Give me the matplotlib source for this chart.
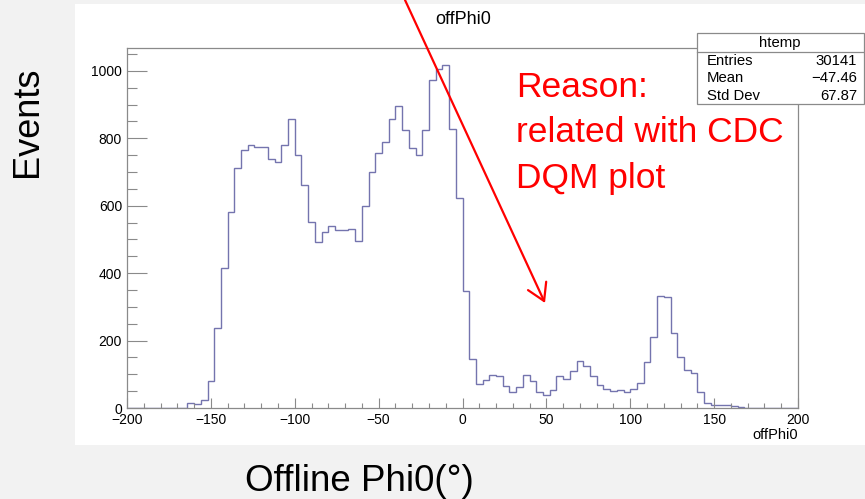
import numpy as np
import matplotlib
matplotlib.use('Agg')
import matplotlib.pyplot as plt
from matplotlib.patches import Rectangle, FancyArrowPatch
from matplotlib.lines import Line2D
from matplotlib.ticker import MultipleLocator

plt.rcParams['font.family'] = ['Liberation Sans', 'DejaVu Sans']

# histogram of offPhi0, 100 bins from -200 to 200
x_lo, x_hi, n_bins = -200, 200, 100
counts = [0, 0, 0, 0, 0, 0, 0, 0, 0,
          15, 12, 24, 79, 237, 414, 580, 712, 765, 780,
          773, 773, 739, 730, 780, 856, 750, 661, 553, 492,
          521, 541, 528, 528, 531, 495, 600, 701, 757, 790,
          856, 895, 824, 770, 752, 826, 972, 1005, 1018, 829,
          622, 348, 146, 71, 84, 98, 96, 64, 48, 62,
          98, 79, 46, 39, 54, 96, 86, 110, 140, 126,
          94, 68, 56, 51, 54, 46, 56, 74, 136, 210,
          331, 329, 222, 151, 113, 105, 47, 15, 8, 10,
          8, 5, 2, 0, 0, 0, 0, 0, 0, 0, 0]
counts = counts[:n_bins]

stat_names = ['Entries', 'Mean', 'Std Dev']
stat_values = ['30141', '\u221247.46', '67.87']
note_lines = ['Reason:', 'related with CDC', 'DQM plot']

W, H = 865, 499


def fx(px):
    return px / W


def fy(py):
    return 1 - py / H


fig = plt.figure(figsize=(W / 100, H / 100), dpi=100, facecolor='#f2f2f2')

# white ROOT canvas
fig.add_artist(Rectangle((fx(75), fy(445)), fx(865) - fx(75), fy(4) - fy(445),
                         transform=fig.transFigure, facecolor='white',
                         edgecolor='none', zorder=0))

ax = fig.add_axes([fx(127), fy(408), fx(798) - fx(127), fy(48) - fy(408)])
edges = np.linspace(x_lo, x_hi, n_bins + 1)
ax.stairs(counts, edges, color='#7474ae', lw=1.0)
ax.set_xlim(x_lo, x_hi)
ax.set_ylim(0, 1068)

frame = '#8a8a8a'
for s in ax.spines.values():
    s.set_color(frame)
    s.set_linewidth(0.9)
ax.xaxis.set_major_locator(MultipleLocator(50))
ax.xaxis.set_minor_locator(MultipleLocator(10))
ax.yaxis.set_major_locator(MultipleLocator(200))
ax.yaxis.set_minor_locator(MultipleLocator(50))
ax.tick_params(axis='x', which='major', direction='in', length=7.2, width=0.8,
               color=frame, labelsize=10, pad=3.8)
ax.tick_params(axis='x', which='minor', direction='in', length=3.6, width=0.8,
               color=frame)
ax.tick_params(axis='y', which='major', direction='in', length=14.4, width=0.8,
               color=frame, labelsize=10, pad=3.6)
ax.tick_params(axis='y', which='minor', direction='in', length=7.2, width=0.8,
               color=frame)
ax.set_xticks([-200, -150, -100, -50, 0, 50, 100, 150, 200])
ax.set_xticklabels(['\u2212200', '\u2212150', '\u2212100', '\u221250', '0',
                    '50', '100', '150', '200'])

fig.text(fx(463), fy(19), 'offPhi0', ha='center', va='center', fontsize=13)
fig.text(fx(798), fy(435), 'offPhi0', ha='right', va='center', fontsize=10.5)

# stats box
fig.add_artist(Rectangle((fx(697), fy(104)), fx(864) - fx(697), fy(33) - fy(104),
                         transform=fig.transFigure, facecolor='white',
                         edgecolor=frame, lw=0.9, zorder=5))
fig.add_artist(Line2D([fx(697), fx(864)], [fy(52), fy(52)],
                      transform=fig.transFigure, color=frame, lw=0.9, zorder=6))
fig.text(fx(780), fy(43), 'htemp', ha='center', va='center', fontsize=10.7, zorder=7)
for i, (name, val) in enumerate(zip(stat_names, stat_values)):
    yy = fy(61 + i * 17.5)
    fig.text(fx(707), yy, name, ha='left', va='center', fontsize=10.7, zorder=7)
    fig.text(fx(857), yy, val, ha='right', va='center', fontsize=10.7, zorder=7)

# slide annotations
fig.text(fx(27), fy(122), 'Events', rotation=90, ha='center', va='center',
         fontsize=26)
fig.text(fx(359), fy(491), 'Offline Phi0(\u00b0)', ha='center', va='baseline',
         fontsize=26.5)
for i, line in enumerate(note_lines):
    fig.text(fx(516), fy(97 + i * 45.5), line, ha='left', va='baseline',
             fontsize=25.5, color='red', zorder=8)

arrow = FancyArrowPatch((fx(405), fy(0)), (fx(545), fy(303)),
                        transform=fig.transFigure,
                        arrowstyle='->,head_length=1.2,head_width=0.72',
                        mutation_scale=10, color='red', lw=1.6,
                        shrinkA=0, shrinkB=0, zorder=9)
fig.add_artist(arrow)

fig.savefig('out.png', dpi=100, facecolor=fig.get_facecolor())
